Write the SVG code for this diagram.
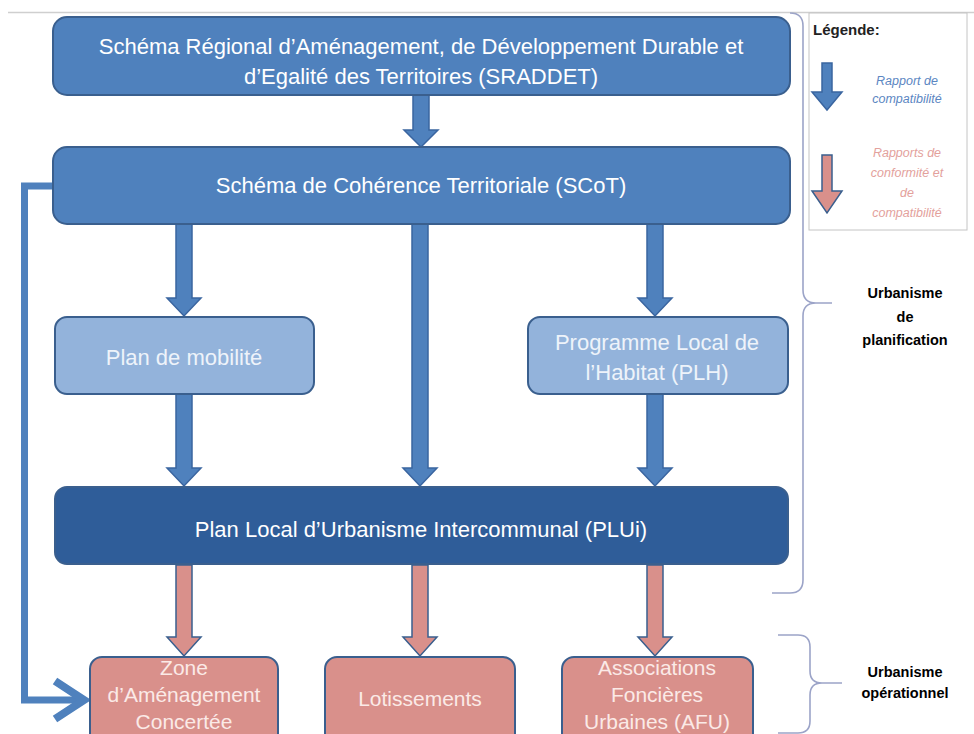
<svg xmlns="http://www.w3.org/2000/svg" width="974" height="734" viewBox="0 0 974 734">
<style>
.t{font-family:"Liberation Sans",Arial,sans-serif;text-anchor:middle}
.box{stroke:#3A5F8E;stroke-width:2}
.b1{fill:#4F81BD}
.b2{fill:#93B3DB}
.b3{fill:#2F5D99}
.pk{fill:#D9908B}
.wt{fill:#FFFFFF;font-size:22px}
.wt2{fill:#EEF3FA;font-size:22px}
.pt{fill:#FBEAE7;font-size:21px}
.ab{fill:#4F81BD;stroke:#3A65A0;stroke-width:1.5;stroke-linejoin:miter}
.ap{fill:#D9908B;stroke:#3A5F8E;stroke-width:1.5}
.brace{fill:none;stroke:#9CA4C8;stroke-width:1.6}
.lab{fill:#000;font-size:14.5px;font-weight:bold}
</style>
<rect width="974" height="734" fill="#FFFFFF"/>
<line x1="8" y1="12.5" x2="974" y2="12.5" stroke="#CFCFCF" stroke-width="1.5"/>

<g id="connectors">
  <polygon class="ab" points="413,95 429,95 429,130 438,130 421,147 404,130 413,130"/>
  <polygon class="ab" points="176,223 192,223 192,298 201,298 184,316 167,298 176,298"/>
  <polygon class="ab" points="412,223 428,223 428,468 437,468 420,486 403,468 412,468"/>
  <polygon class="ab" points="647,223 663,223 663,298 672,298 655,316 638,298 647,298"/>
  <polygon class="ab" points="176,394 192,394 192,468 201,468 184,486 167,468 176,468"/>
  <polygon class="ab" points="647,394 663,394 663,468 672,468 655,486 638,468 647,468"/>
  <polygon class="ap" points="176,565 192,565 192,637 201,637 184,656 167,637 176,637"/>
  <polygon class="ap" points="412,565 428,565 428,637 437,637 420,656 403,637 412,637"/>
  <polygon class="ap" points="647,565 663,565 663,637 672,637 655,656 638,637 647,637"/>
  <path d="M53,186 H24.5 V700 H82" fill="none" stroke="#4F81BD" stroke-width="7"/>
  <polyline points="55,681 84,700 55,719" fill="none" stroke="#4F81BD" stroke-width="8" stroke-linejoin="miter"/>
</g>

<g id="sraddet">
  <rect class="box b1" x="53" y="17" width="737" height="78" rx="14"/>
  <text class="t wt" x="421" y="54">Schéma Régional d’Aménagement, de Développement Durable et</text>
  <text class="t wt" x="421" y="84">d’Egalité des Territoires (SRADDET)</text>
</g>
<g id="scot">
  <rect class="box b1" x="53" y="147" width="737" height="77" rx="14"/>
  <text class="t wt" x="421" y="193">Schéma de Cohérence Territoriale (SCoT)</text>
</g>
<g id="mobilite">
  <rect class="box b2" x="55" y="317" width="259" height="77" rx="12"/>
  <text class="t wt2" x="184" y="365">Plan de mobilité</text>
</g>
<g id="plh">
  <rect class="box b2" x="528" y="317" width="260" height="77" rx="12"/>
  <text class="t wt2" x="657" y="350">Programme Local de</text>
  <text class="t wt2" x="657" y="380">l’Habitat (PLH)</text>
</g>
<g id="plui">
  <rect class="box b3" x="55" y="487" width="733" height="77" rx="12"/>
  <text class="t wt" x="421" y="537">Plan Local d’Urbanisme Intercommunal (PLUi)</text>
</g>
<g id="zac">
  <rect class="box pk" x="90" y="657" width="188" height="100" rx="12"/>
  <text class="t pt" x="184" y="675">Zone</text>
  <text class="t pt" x="184" y="702">d’Aménagement</text>
  <text class="t pt" x="184" y="729">Concertée</text>
</g>
<g id="lotissements">
  <rect class="box pk" x="325" y="657" width="190" height="100" rx="12"/>
  <text class="t pt" x="420" y="706" font-size="22">Lotissements</text>
</g>
<g id="afu">
  <rect class="box pk" x="562" y="657" width="191" height="100" rx="12"/>
  <text class="t pt" x="657" y="675">Associations</text>
  <text class="t pt" x="657" y="702">Foncières</text>
  <text class="t pt" x="657" y="729">Urbaines (AFU)</text>
</g>

<g id="brace-planification">
  <path class="brace" d="M790,13 Q803,13 803,26 V290 Q803,303 816,303 Q803,303 803,316 V580 Q803,593 790,593 H772 M816,303 H832"/>
  <text class="t lab" x="905" y="298">Urbanisme</text>
  <text class="t lab" x="905" y="322">de</text>
  <text class="t lab" x="905" y="345">planification</text>
</g>
<g id="brace-operationnel">
  <path class="brace" d="M778,635 H798 Q810,635 810,647 V671 Q810,683 822,683 Q810,683 810,695 V721 Q810,733 798,733 H778 M822,683 H842"/>
  <text class="t lab" x="905" y="677">Urbanisme</text>
  <text class="t lab" x="905" y="698">opérationnel</text>
</g>

<g id="legend">
  <rect x="809" y="13" width="158" height="217" fill="#FFFFFF" stroke="#C4C4C4" stroke-width="1"/>
  <text x="813" y="35" font-family="Liberation Sans,Arial,sans-serif" font-size="15" font-weight="bold" fill="#222">Légende:</text>
  <polygon class="ab" points="822,63 832,63 832,92 842,92 827,110 812,92 822,92"/>
  <text class="t" x="907" y="85" font-size="12.5" font-style="italic" fill="#5B86C2">Rapport de</text>
  <text class="t" x="907" y="103" font-size="12.5" font-style="italic" fill="#5B86C2">compatibilité</text>
  <polygon class="ap" points="822,155 832,155 832,191 842,191 827,213 812,191 822,191"/>
  <text class="t" x="907" y="157" font-size="12.5" font-style="italic" fill="#E3A19C">Rapports de</text>
  <text class="t" x="907" y="177" font-size="12.5" font-style="italic" fill="#E3A19C">conformité et</text>
  <text class="t" x="907" y="197" font-size="12.5" font-style="italic" fill="#E3A19C">de</text>
  <text class="t" x="907" y="217" font-size="12.5" font-style="italic" fill="#E3A19C">compatibilité</text>
</g>
</svg>
